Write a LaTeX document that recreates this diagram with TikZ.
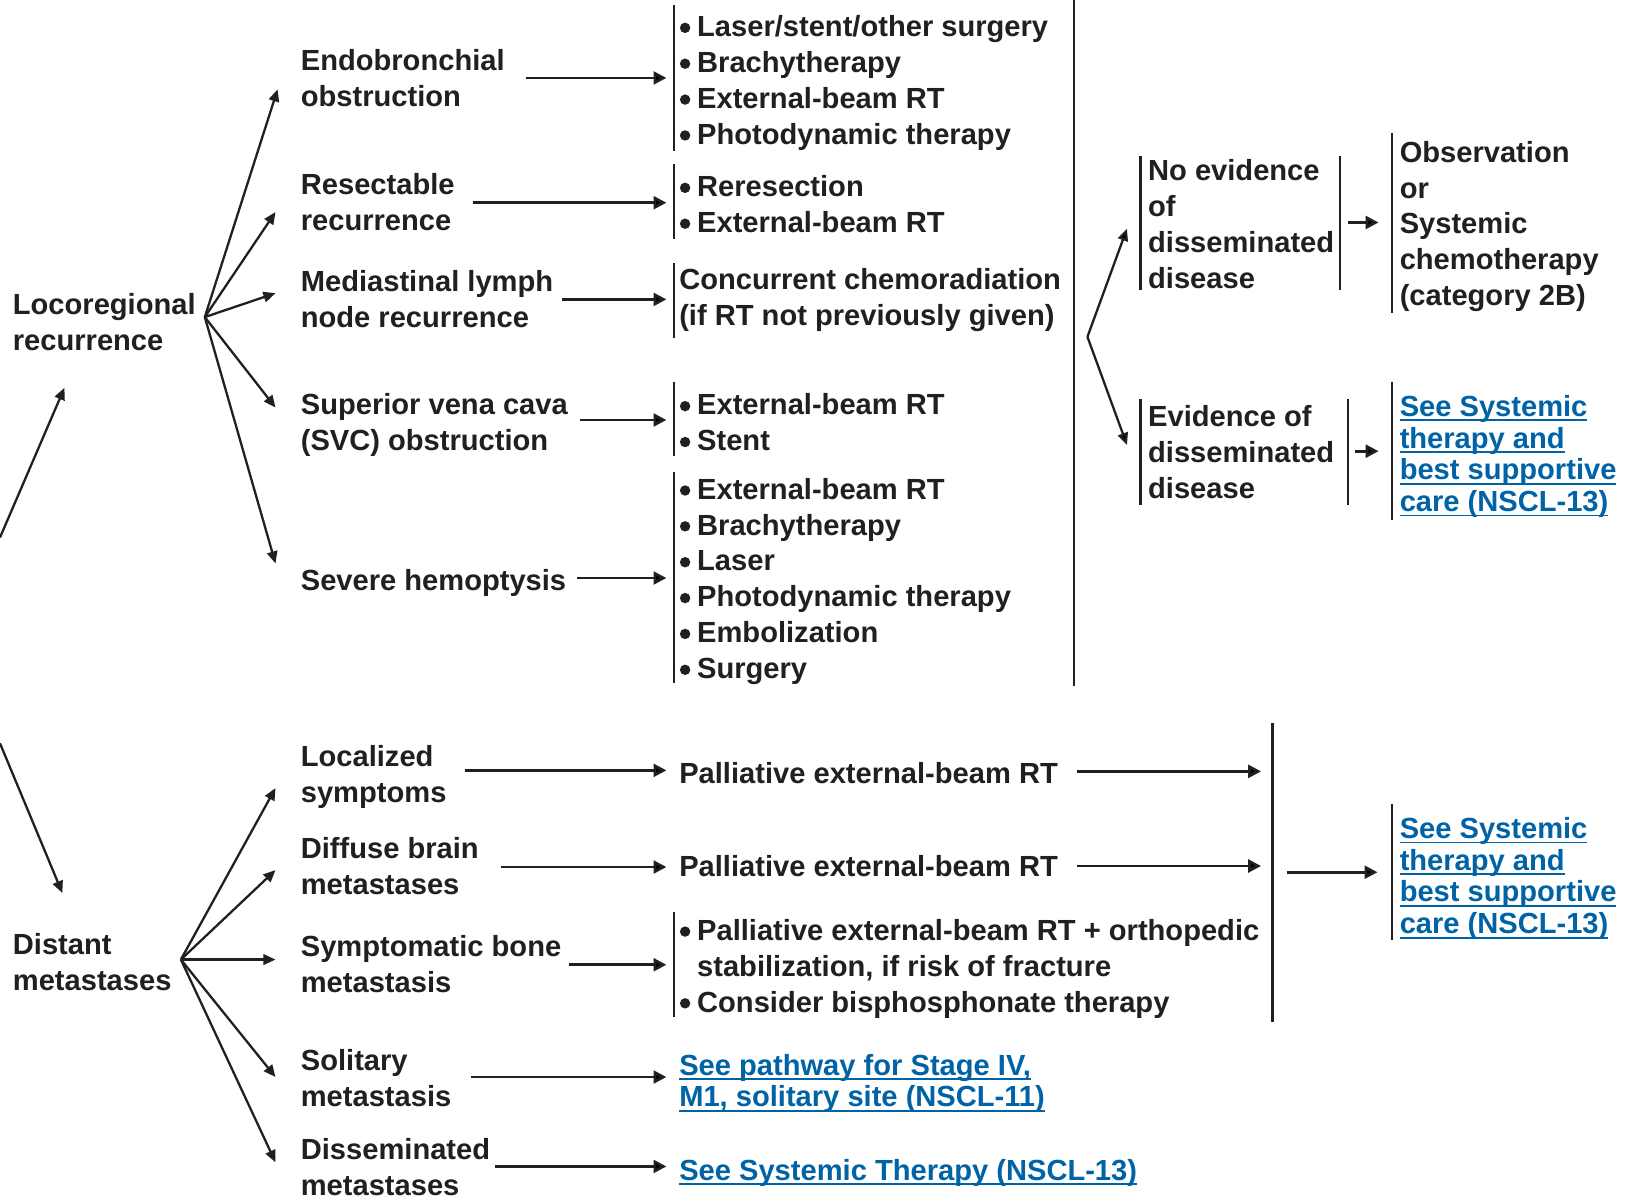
\documentclass[tikz,border=0pt]{standalone}
\usepackage{fontspec}
\setmainfont{Liberation Sans}
\usetikzlibrary{arrows.meta}
\definecolor{ink}{HTML}{231F20}
\definecolor{lnkblue}{HTML}{0063A6}
\newcommand\ulk[1]{\leavevmode\setbox0=\hbox{#1}\rlap{\rule[-2.4pt]{\wd0}{0.9pt}}\box0}
\newcommand\bul{\makebox[8.6pt][l]{\hspace{0.3pt}\raisebox{1.7pt}{\tikz\fill (0,0) circle (2.5pt);}}}
\begin{document}
\begin{tikzpicture}[x=0.5pt,y=-0.5pt,
  txt/.style={inner sep=0pt, anchor=north west, align=left, text=ink, yshift=-2.4pt,
    font=\bfseries\fontsize{14}{17.25}\selectfont, execute at begin node={\rule{0pt}{12pt}}},
  lnk/.style={txt, text=lnkblue, font=\bfseries\fontsize{14}{15.25}\selectfont},
  arr/.style={draw=ink, line width=1.3pt, -{Triangle[length=6.2pt,width=6.2pt]}},
  fan/.style={draw=ink, line width=1.1pt, -{Triangle[length=5.8pt,width=5pt]}},
  bar/.style={draw=ink, line width=1pt}]
\fill[white] (0,0) rectangle (1565,1155);
\useasboundingbox (0,0) rectangle (1565,1155);

% ---- first level
\node[txt] (loco) at (12,277) {Locoregional\\recurrence};
\node[txt] (dist) at (12,893) {Distant\\metastases};
\coordinate (inA) at (0,517);
\coordinate (inB) at (0,715);
\draw[fan] (inA) -- (62,373);
\draw[fan] (inB) -- (60,859);

% ---- second level (locoregional)
\node[txt] (endo) at (289,42) {Endobronchial\\obstruction};
\node[txt] (resec) at (289,162) {Resectable\\recurrence};
\node[txt] (medi) at (289,255) {Mediastinal lymph\\node recurrence};
\node[txt] (svc) at (289,373) {Superior vena cava\\(SVC) obstruction};
\node[txt] (hemo) at (289,539) {Severe hemoptysis};

\coordinate (lo) at (197,305);
\draw[fan] (lo) -- (267,86);
\draw[fan] (lo) -- (265,204);
\draw[fan] (lo) -- (265,282);
\draw[fan] (lo) -- (265,392);
\draw[fan] (lo) -- (265,542);

% ---- second level (distant)
\node[txt] (local) at (289,712) {Localized\\symptoms};
\node[txt] (brain) at (289,800) {Diffuse brain\\metastases};
\node[txt] (bone) at (289,895) {Symptomatic bone\\metastasis};
\node[txt] (soli) at (289,1004) {Solitary\\metastasis};
\node[txt] (dissem) at (289,1090) {Disseminated\\metastases};

\coordinate (do) at (174,923);
\draw[fan] (do) -- (265,758);
\draw[fan] (do) -- (265,837);
\draw[fan] (do) -- (265,923);
\draw[fan] (do) -- (265,1036);
\draw[fan] (do) -- (265,1118);

% ---- third level (locoregional)
\node[txt] (endoT) at (653,9.7) {\bul Laser/stent/other surgery\\\bul Brachytherapy\\\bul External-beam RT\\\bul Photodynamic therapy};
\node[txt] (resecT) at (653,163.6) {\bul Reresection\\\bul External-beam RT};
\node[txt] (mediT) at (653,253.4) {Concurrent chemoradiation\\(if RT not previously given)};
\node[txt] (svcT) at (653,373.6) {\bul External-beam RT\\\bul Stent};
\node[txt] (hemoT) at (653,454.7) {\bul External-beam RT\\\bul Brachytherapy\\\bul Laser\\\bul Photodynamic therapy\\\bul Embolization\\\bul Surgery};

\draw[bar] (648,5) -- (648,145);
\draw[bar] (648,158) -- (648,230);
\draw[bar] (648,253) -- (648,325);
\draw[bar] (648,367) -- (648,439);
\draw[bar] (648,454) -- (648,657);

\draw[arr] (506,75) -- (641,75);
\draw[arr] (455,195) -- (641,195);
\draw[arr] (541,288) -- (641,288);
\draw[arr] (558,404) -- (641,404);
\draw[arr] (555,556) -- (641,556);

% ---- big bracket and dissemination split
\draw[bar] (1033,0) -- (1033,660);
\coordinate (so) at (1046,324);
\draw[fan] (so) -- (1084,220);
\draw[fan] (so) -- (1084,428);

\node[txt] (noev) at (1104,148.5) {No evidence\\of\\disseminated\\disease};
\draw[bar] (1097,150) -- (1097,279);
\draw[bar] (1289,150) -- (1289,279);
\draw[arr] (1297,214) -- (1326,214);
\node[txt] (obs) at (1346,130.5) {Observation\\or\\Systemic\\chemotherapy\\(category 2B)};
\draw[bar] (1339,128) -- (1339,301);

\node[txt] (ev) at (1104,385) {Evidence of\\disseminated\\disease};
\draw[bar] (1097,384) -- (1097,486);
\draw[bar] (1297,384) -- (1297,486);
\draw[arr] (1303,434) -- (1326,434);
\node[lnk] (sys1) at (1346,375) {\ulk{See Systemic}\\\ulk{therapy and}\\\ulk{best supportive}\\\ulk{care (NSCL-13)}};
\draw[bar] (1339,367) -- (1339,500);

% ---- third level (distant)
\node[txt] (pal1) at (653,724.5) {Palliative external-beam RT};
\node[txt] (pal2) at (653,813.5) {Palliative external-beam RT};
\node[txt] (boneT) at (653,879) {\bul Palliative external-beam RT + orthopedic\\\hspace*{8.6pt}stabilization, if risk of fracture\\\bul Consider bisphosphonate therapy};
\draw[bar] (648,877) -- (648,978);
\node[lnk] (soliT) at (653,1008.6) {\ulk{See pathway for Stage IV,}\\\ulk{M1, solitary site (NSCL-11)}};
\node[lnk] (dissemT) at (653,1106) {\ulk{See Systemic Therapy (NSCL-13)}};

\draw[arr] (447,741) -- (641,741);
\draw[arr] (482,834) -- (641,834);
\draw[arr] (547,928) -- (641,928);
\draw[arr] (453,1036) -- (641,1036);
\draw[arr] (476,1122) -- (641,1122);

\draw[arr] (1036,742) -- (1213,742);
\draw[arr] (1036,833) -- (1213,833);
\draw[bar] (1224,695) -- (1224,983);
\draw[arr] (1238,839) -- (1325,839);
\node[lnk] (sys2) at (1346,781) {\ulk{See Systemic}\\\ulk{therapy and}\\\ulk{best supportive}\\\ulk{care (NSCL-13)}};
\draw[bar] (1339,773) -- (1339,904);
\end{tikzpicture}
\end{document}
